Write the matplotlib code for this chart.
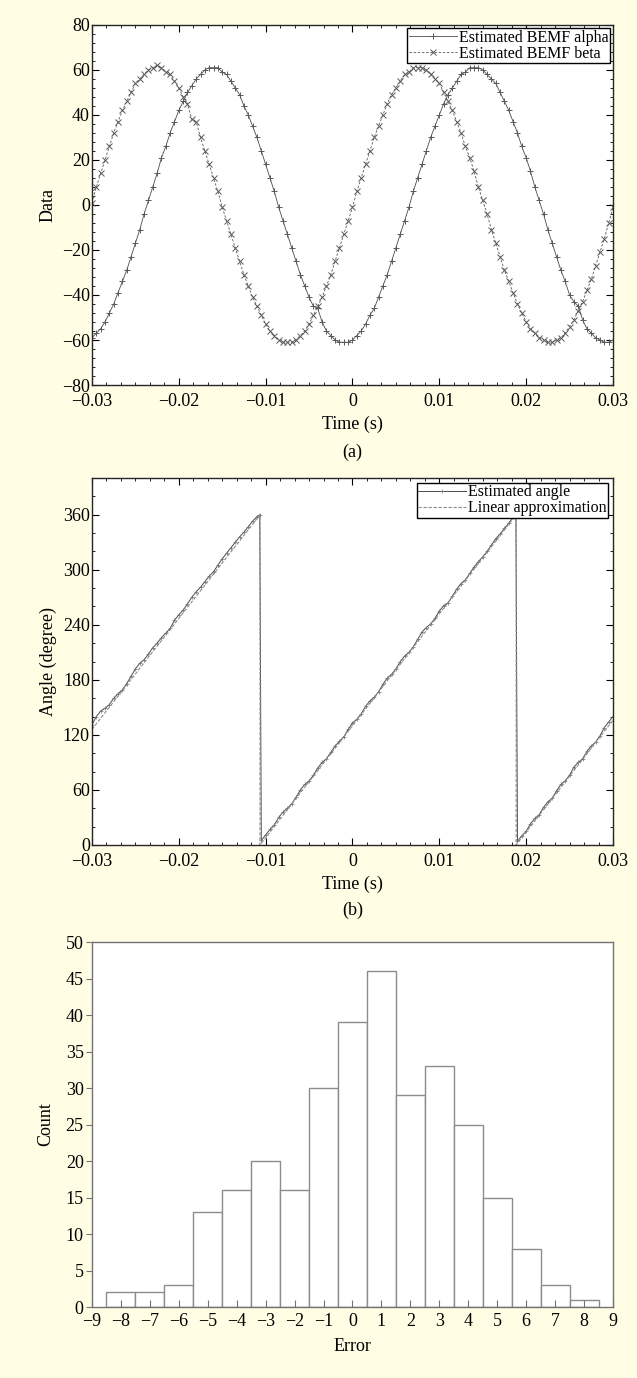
import numpy as np
import matplotlib
matplotlib.use("Agg")
import matplotlib.pyplot as plt
from matplotlib.ticker import MultipleLocator

plt.rcParams['font.family'] = ['Liberation Serif', 'DejaVu Serif']
plt.rcParams['font.size'] = 13

# (a) BEMF samples, every 0.5 ms from -0.03 s to 0.03 s
t = np.linspace(-0.03, 0.03, 121)
bemf_alpha = [-59, -57, -55, -52, -48, -44, -39, -34, -29, -23,
              -17, -11, -4, 2, 8, 14, 21, 26, 32, 37,
              42, 46, 50, 53, 56, 58, 60, 61, 61, 61,
              59, 58, 55, 52, 49, 44, 40, 35, 30, 24,
              18, 12, 6, -1, -7, -13, -19, -25, -31, -36,
              -41, -45, -46, -52, -56, -58, -60, -61, -61, -61,
              -60, -58, -56, -53, -49, -46, -41, -36, -31, -25,
              -19, -13, -7, -1, 6, 12, 18, 24, 30, 35,
              40, 45, 49, 52, 55, 58, 59, 61, 61, 61,
              60, 58, 56, 54, 50, 46, 42, 37, 32, 26,
              21, 15, 8, 2, -4, -11, -17, -23, -29, -34,
              -40, -43, -45, -51, -55, -57, -59, -60, -61, -61, -60]
bemf_beta = [1, 8, 14, 20, 26, 32, 37, 42, 46, 50,
             54, 56, 58, 60, 61, 62, 61, 59, 58, 55,
             52, 48, 45, 38, 37, 30, 24, 18, 12, 6,
             -1, -7, -13, -19, -25, -31, -36, -41, -45, -49,
             -53, -56, -58, -60, -61, -61, -61, -60, -58, -56,
             -53, -49, -45, -41, -36, -31, -25, -19, -13, -7,
             -1, 6, 12, 18, 24, 30, 35, 40, 45, 49,
             52, 55, 58, 59, 61, 61, 61, 60, 58, 56,
             54, 50, 46, 42, 37, 32, 26, 21, 15, 8,
             2, -4, -11, -17, -23, -29, -34, -39, -44, -48,
             -52, -55, -57, -59, -60, -61, -61, -60, -59, -57,
             -54, -51, -47, -43, -38, -33, -27, -21, -15, -8, -1]

# (b) estimated angle (same time base plus the two wrap samples)
angle_est = [131, 140, 146, 149, 153, 160, 165, 169, 176, 184,
             192, 198, 202, 208, 215, 220, 226, 231, 236, 245,
             251, 256, 263, 270, 276, 281, 287, 293, 298, 305,
             312, 318, 324, 330, 336, 341, 347, 353, 358,
             5, 11, 17, 22, 30, 36, 40, 45, 52, 60,
             66, 70, 76, 84, 90, 94, 101, 108, 113, 118,
             126, 133, 137, 143, 151, 157, 161, 167, 175, 182,
             186, 192, 200, 206, 210, 216, 224, 232, 237, 241,
             247, 255, 261, 264, 271, 279, 285, 289, 296, 303,
             309, 314, 320, 327, 334, 339, 345, 351, 357,
             4, 10, 15, 23, 29, 33, 41, 47, 51, 59,
             66, 70, 76, 85, 90, 94, 102, 108, 112, 119,
             128, 134, 140]
wrap_t = [-0.01068, 0.01882]
wrap_angle = [360, 359]
lin_t = [-0.03, -0.01065, -0.01065, 0.01885, 0.01885, 0.03]
lin_angle = [126, 360, 0, 360, 0, 136]

# (c) error histogram
err_bins = [-8, -7, -6, -5, -4, -3, -2, -1, 0, 1, 2, 3, 4, 5, 6, 7, 8]
err_count = [2, 2, 3, 13, 16, 20, 16, 30, 39, 46, 29, 33, 25, 15, 8, 3, 1]

bg = '#fffde3'
fig = plt.figure(figsize=(6.37, 13.78), dpi=100, facecolor=bg)
time_ticks = [-0.03, -0.02, -0.01, 0, 0.01, 0.02, 0.03]
time_labels = ['\u22120.03', '\u22120.02', '\u22120.01', '0', '0.01', '0.02', '0.03']


def frame_ticks(ax):
    ax.tick_params(which='both', direction='in', top=True, right=True, labelsize=13)
    ax.tick_params(which='major', length=5, width=0.8)
    ax.tick_params(which='minor', length=2.5, width=0.6)
    ax.tick_params(axis='x', which='major', pad=6)
    ax.tick_params(axis='y', which='major', pad=1.5)
    for s in ax.spines.values():
        s.set_linewidth(1.0)
        s.set_color('0.15')


# ---- (a)
ax1 = fig.add_axes([0.1444, 0.7206, 0.8179, 0.2613])
ax1.plot(t, bemf_alpha, '-', color='0.3', lw=0.6, marker='+', ms=5, mew=0.7,
         mec='0.35', label='Estimated BEMF alpha')
ax1.plot(t, bemf_beta, '--', color='0.35', lw=0.6, marker='x', ms=4, mew=0.7,
         mec='0.35', label='Estimated BEMF beta', dashes=(3, 2))
ax1.set_xlim(-0.03, 0.03)
ax1.set_ylim(-80, 80)
ax1.set_xticks(time_ticks)
ax1.set_xticklabels(time_labels)
ax1.xaxis.set_minor_locator(MultipleLocator(0.01 / 6))
ax1.yaxis.set_major_locator(MultipleLocator(20))
ax1.yaxis.set_minor_locator(MultipleLocator(4))
frame_ticks(ax1)
ax1.set_ylabel('Data', labelpad=4)
ax1.set_xlabel('Time (s)', labelpad=4)
leg = ax1.legend(loc='upper right', fontsize=11.5, fancybox=False, framealpha=1,
                 edgecolor='black', borderpad=0.1, labelspacing=0.0,
                 handlelength=3.0, handletextpad=0.1, borderaxespad=0.2)
leg.get_frame().set_linewidth(1.0)
fig.text(0.5531, 1 - 452 / 1378, '(a)', ha='center', va='center', fontsize=13)

# ---- (b)
ax2 = fig.add_axes([0.1444, 0.3868, 0.8179, 0.2663])
angle_t = np.insert(t, [39, 98], wrap_t)
angle_v = np.insert(np.array(angle_est, dtype=float), [39, 98], wrap_angle)
ax2.plot(angle_t, angle_v, '-', color='0.3', lw=0.7, marker='+', ms=3, mew=0.5,
         mec='0.45', label='Estimated angle')
ax2.plot(lin_t, lin_angle, '--', color='0.55', lw=0.8, dashes=(3, 1.5),
         label='Linear approximation')
ax2.set_xlim(-0.03, 0.03)
ax2.set_ylim(0, 400)
ax2.set_xticks(time_ticks)
ax2.set_xticklabels(time_labels)
ax2.xaxis.set_minor_locator(MultipleLocator(0.01 / 6))
ax2.set_yticks([0, 60, 120, 180, 240, 300, 360])
ax2.yaxis.set_minor_locator(MultipleLocator(20))
frame_ticks(ax2)
ax2.set_ylabel('Angle (degree)', labelpad=4)
ax2.set_xlabel('Time (s)', labelpad=4)
leg2 = ax2.legend(loc='upper right', fontsize=11.5, fancybox=False, framealpha=1,
                  edgecolor='black', borderpad=0.1, labelspacing=0.0,
                  handlelength=3.0, handletextpad=0.1, borderaxespad=0.3)
leg2.get_frame().set_linewidth(1.0)
fig.text(0.5531, 1 - 910 / 1378, '(b)', ha='center', va='center', fontsize=13)

# ---- (c)
ax3 = fig.add_axes([0.1444, 0.0515, 0.8179, 0.2649])
ax3.bar(err_bins, err_count, width=1.0, color='white', edgecolor='0.55', linewidth=1.0)
ax3.set_xlim(-9, 9)
ax3.set_ylim(0, 50)
ax3.set_xticks(range(-9, 10))
ax3.set_xticklabels([('\u2212%d' % -v) if v < 0 else str(v) for v in range(-9, 10)])
ax3.set_yticks(range(0, 51, 5))
ax3.tick_params(axis='x', direction='in', length=5, width=0.8, colors='0.45',
                labelcolor='black', labelsize=13, pad=4)
ax3.tick_params(axis='y', direction='out', length=4, width=0.8, colors='0.45',
                labelcolor='black', labelsize=13, pad=2)
for s in ax3.spines.values():
    s.set_color('0.45')
    s.set_linewidth(1.0)
ax3.set_ylabel('Count', labelpad=8)
ax3.set_xlabel('Error', labelpad=6)

fig.savefig('out.png', dpi=100, facecolor=bg)
